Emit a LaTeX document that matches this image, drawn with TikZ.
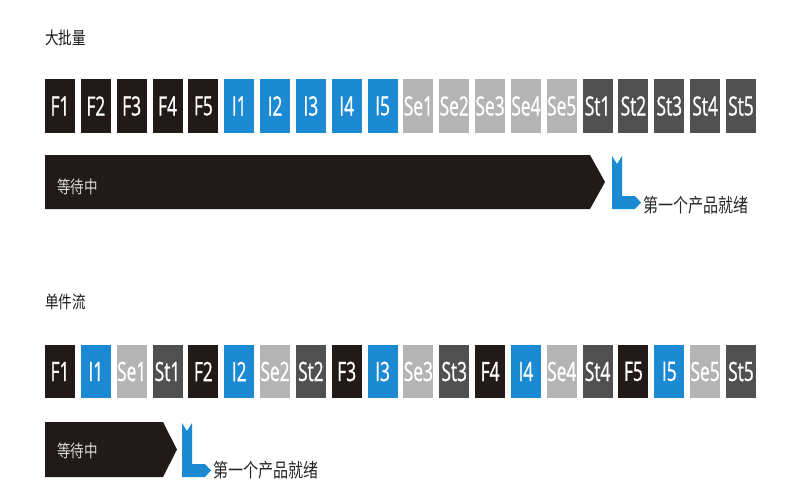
\documentclass[tikz,border=0pt]{standalone}
\usepackage{fontspec}
\newfontfamily\cjk[FakeStretch=0.78]{Noto Sans CJK SC}
\newfontfamily\boxfont[FakeStretch=0.65, FakeBold=0.8]{Open Sans}
\definecolor{fcol}{HTML}{221A18}
\definecolor{icol}{HTML}{1B8AD3}
\definecolor{secol}{HTML}{B4B4B4}
\definecolor{stcol}{HTML}{505050}
\tikzset{
  stage/.style={minimum width=22.5pt, minimum height=40pt, inner sep=0pt, text=white,
    font=\boxfont\fontsize{20}{20}\selectfont},
  title/.style={anchor=west, inner sep=0pt, text=black!90, font=\cjk\fontsize{13}{13}\selectfont},
  wait/.style={anchor=west, inner sep=0pt, text=white!85!black, font=\cjk\fontsize{13}{13}\selectfont},
  ready/.style={anchor=west, inner sep=0pt, text=black!85, font=\cjk\fontsize{14.5}{14.5}\selectfont},
}

\begin{document}
\begin{tikzpicture}[x=0.75pt, y=-0.75pt]
			%%%%% START %%%%%
			\useasboundingbox (0,0) rectangle (800,500);
			
			% batch
			\node[title] (batch) at (45,38) {大批量};
			\foreach \g/\col [count=\j from 0] in {F/fcol, I/icol, Se/secol, St/stcol}
				\foreach \k in {1,...,5}
					\node[stage, fill=\col] (a\g\k) at ({60+(5*\j+\k-1)*35.84}, 106) {\g\k};
			
			\fill[fcol] (45,155) -- (590,155) -- (605,182) -- (590,209) -- (45,209) -- cycle;
			\node[wait] (waita) at (57,187) {等待中};
			\fill[icol] (612,156) -- (617,164) -- (622,156) -- (622,196) -- (635,196) -- (641,202.5) -- (635,209) -- (612,209) -- cycle;
			\node[ready] (readya) at (643,205) {第一个产品就绪};
			
			% single piece flow
			\node[title] (single) at (45,302) {单件流};
			\foreach \k in {1,...,5}
				\foreach \g/\col [count=\j from 0] in {F/fcol, I/icol, Se/secol, St/stcol}
					\node[stage, fill=\col] (b\g\k) at ({60+(4*(\k-1)+\j)*35.84}, 371.5) {\g\k};
			
			\fill[fcol] (45,422) -- (163,422) -- (177,449.5) -- (163,477) -- (45,477) -- cycle;
			\node[wait] (waitb) at (57,451) {等待中};
			\fill[icol] (182,423) -- (187,431) -- (192,423) -- (192,464) -- (205,464) -- (211,470.5) -- (205,477) -- (182,477) -- cycle;
			\node[ready] (readyb) at (213,470) {第一个产品就绪};
			
			%%%%% END %%%%%
\end{tikzpicture}
\end{document}
